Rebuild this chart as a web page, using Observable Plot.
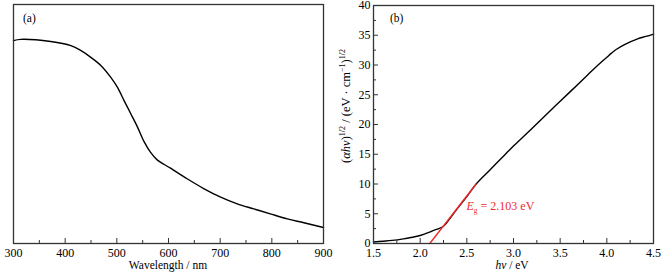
<!DOCTYPE html>
<html><head><meta charset="utf-8">
<script src="https://cdn.jsdelivr.net/npm/d3@7"></script>
<script src="https://cdn.jsdelivr.net/npm/@observablehq/plot@0.6"></script>
<style>
body{margin:0;background:#fff;}
#wrap{position:relative;width:665px;height:279px;overflow:hidden;background:#fff;}
#wrap svg{position:absolute;top:0;overflow:visible;}
</style></head><body><div id="wrap"></div>
<script>
// Panel (a): absorbance spectrum (arbitrary units)
const wavelength = [300, 314, 372, 411, 430, 449, 469, 488, 501, 514, 527, 540, 553, 565, 578, 604, 636, 669, 701, 733, 765, 797, 830, 862, 900];
const absorbance = [0.849, 0.854, 0.845, 0.828, 0.808, 0.780, 0.745, 0.696, 0.654, 0.598, 0.543, 0.487, 0.425, 0.382, 0.350, 0.315, 0.271, 0.229, 0.194, 0.166, 0.145, 0.124, 0.103, 0.087, 0.067];
// Panel (b): Tauc plot
const photonEnergy = [1.50, 1.60, 1.70, 1.82, 1.90, 2.00, 2.10, 2.14, 2.20, 2.25, 2.28, 2.40, 2.50, 2.60, 2.75, 2.90, 3.00, 3.15, 3.30, 3.50, 3.70, 3.90, 4.00, 4.05, 4.10, 4.20, 4.33, 4.42, 4.50];
const taucValue    = [0.25, 0.38, 0.52, 0.78, 1.00, 1.34, 1.90, 2.18, 2.50, 2.90, 3.40, 5.90, 7.90, 10.0, 12.4, 14.8, 16.4, 18.6, 20.9, 23.9, 26.9, 29.9, 31.3, 32.0, 32.6, 33.5, 34.4, 34.8, 35.2];
const fitEnergy = [2.103, 2.60];
const fitValue = [0, 10.0];
const bandGap = "2.103";

const ticksA = [300, 400, 500, 600, 700, 800, 900];
const minorA = [350, 450, 550, 650, 750, 850];
const ticksBx = [1.5, 2.0, 2.5, 3.0, 3.5, 4.0, 4.5];
const minorBx = [1.75, 2.25, 2.75, 3.25, 3.75, 4.25];
const ticksBy = [0, 5, 10, 15, 20, 25, 30, 35, 40];
const minorBy = [2.5, 7.5, 12.5, 17.5, 22.5, 27.5, 32.5, 37.5];

const font = "'Liberation Serif', 'Times New Roman', serif";
const red = "#ee2b2b";
const frameColor = "#333";

const dataA = wavelength.map((w, i) => ({w, a: absorbance[i]}));
const dataB = photonEnergy.map((e, i) => ({e, v: taucValue[i]}));
const fitB = fitEnergy.map((e, i) => ({e, v: fitValue[i]}));

const commonStyle = {fontFamily: font, fontSize: "12px", background: "transparent", overflow: "visible", color: "#000"};

const plotA = Plot.plot({
  width: 330, height: 279,
  marginLeft: 13, marginRight: 7, marginTop: 4, marginBottom: 36,
  style: commonStyle,
  x: {domain: [300, 900], label: null},
  y: {domain: [0, 1], axis: null, label: null},
  marks: [
    Plot.line(dataA, {x: "w", y: "a", curve: "catmull-rom", stroke: "#000", strokeWidth: 1.4}),
    Plot.axisX(ticksA, {anchor: "bottom", tickSize: -5, tickPadding: 10, stroke: frameColor, label: null}),
    Plot.axisX(minorA, {anchor: "bottom", tickSize: -3, tickFormat: () => "", stroke: frameColor, label: null}),
    Plot.frame({stroke: frameColor, strokeWidth: 1.3})
  ]
});

const plotB = Plot.plot({
  width: 335, height: 279,
  marginLeft: 43, marginRight: 12, marginTop: 5, marginBottom: 36,
  style: commonStyle,
  x: {domain: [1.5, 4.5], label: null},
  y: {domain: [0, 40], label: null},
  marks: [
    Plot.line(dataB, {x: "e", y: "v", curve: "catmull-rom", stroke: "#000", strokeWidth: 1.4}),
    Plot.line(fitB, {x: "e", y: "v", stroke: red, strokeWidth: 1.4}),
    Plot.axisX(ticksBx, {anchor: "bottom", tickSize: -5, tickPadding: 10, tickFormat: d3.format(".1f"), stroke: frameColor, label: null}),
    Plot.axisX(minorBx, {anchor: "bottom", tickSize: -3, tickFormat: () => "", stroke: frameColor, label: null}),
    Plot.axisY(ticksBy, {anchor: "left", tickSize: -5, tickPadding: 8, stroke: frameColor, label: null}),
    Plot.axisY(minorBy, {anchor: "left", tickSize: -3, tickFormat: () => "", stroke: frameColor, label: null}),
    Plot.frame({stroke: frameColor, strokeWidth: 1.3})
  ]
});

const wrap = document.getElementById("wrap");
plotA.style.left = "0px";
plotB.style.left = "330px";
wrap.appendChild(plotA);
wrap.appendChild(plotB);

// Titles and annotations
const sA = d3.select(plotA);
sA.append("text").attr("x", 168).attr("y", 269).attr("text-anchor", "middle")
  .attr("font-size", 11.5).attr("font-family", font).text("Wavelength / nm");
sA.append("text").attr("x", 23).attr("y", 22).attr("text-anchor", "start")
  .attr("font-size", 11.5).attr("font-family", font).text("(a)");

const sB = d3.select(plotB);
sB.append("text").attr("x", 60).attr("y", 22).attr("text-anchor", "start")
  .attr("font-size", 11.5).attr("font-family", font).text("(b)");

const xt = sB.append("text").attr("x", 182).attr("y", 269).attr("text-anchor", "middle")
  .attr("font-size", 11.5).attr("font-family", font);
xt.append("tspan").attr("font-style", "italic").text("hν");
xt.append("tspan").text(" / eV");

const yt = sB.append("text").attr("transform", "translate(20,106) rotate(-90)").attr("text-anchor", "middle")
  .attr("font-size", 12.5).attr("font-family", font);
yt.append("tspan").text("(");
yt.append("tspan").attr("font-style", "italic").text("αhν");
yt.append("tspan").text(")");
yt.append("tspan").attr("font-size", 8).attr("dy", -5).text("1/2");
yt.append("tspan").attr("dy", 5).text(" / (eV · cm");
yt.append("tspan").attr("font-size", 8).attr("dy", -5).text("−1");
yt.append("tspan").attr("dy", 5).text(")");
yt.append("tspan").attr("font-size", 8).attr("dy", -5).text("1/2");

const eg = sB.append("text").attr("x", 136.5).attr("y", 209.5).attr("text-anchor", "start")
  .attr("font-size", 12).attr("font-family", font).attr("fill", red);
eg.append("tspan").attr("font-style", "italic").text("E");
eg.append("tspan").attr("font-size", 7.5).attr("dy", 3.5).text("g");
eg.append("tspan").attr("dy", -3.5).text(" = " + bandGap + " eV");
</script></body></html>
